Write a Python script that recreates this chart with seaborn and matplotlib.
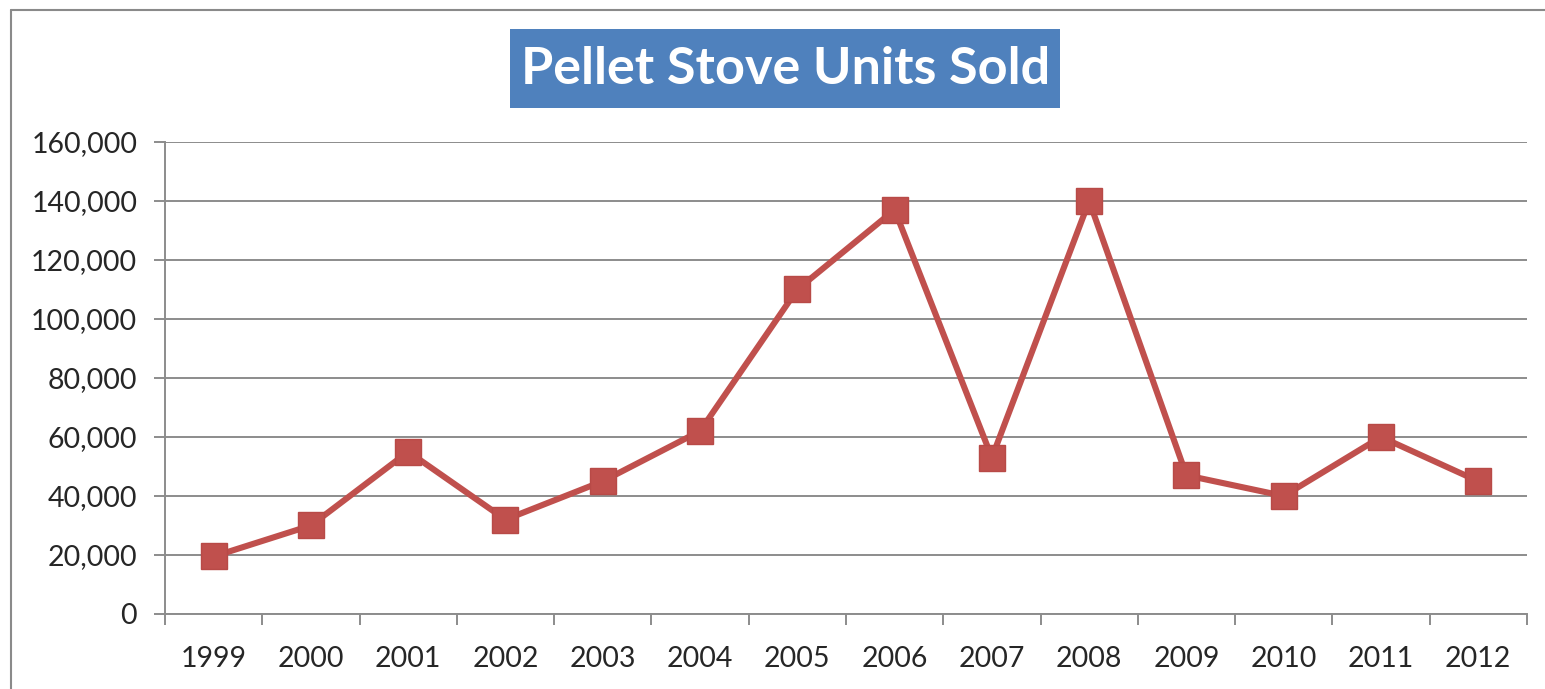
import matplotlib
matplotlib.use("Agg")
import matplotlib.pyplot as plt
import matplotlib.patches as mpatches
from matplotlib.lines import Line2D
from matplotlib.ticker import FuncFormatter, FixedLocator
import seaborn as sns
import pandas as pd

# data
years = ["1999", "2000", "2001", "2002", "2003", "2004", "2005",
         "2006", "2007", "2008", "2009", "2010", "2011", "2012"]
units_sold = [19500, 30000, 55000, 32000, 45000, 62000, 110000,
              137000, 53000, 140000, 47000, 40000, 60000, 45000]
y_ticks = [0, 20000, 40000, 60000, 80000, 100000, 120000, 140000, 160000]

title = "Pellet Stove Units Sold"
line_color = "#C0504D"
grid_color = "#8C8C8C"
text_color = "#262626"

sns.set_theme(style="white")
plt.rcParams["font.family"] = ["Lato", "DejaVu Sans"]

df = pd.DataFrame({"year": years, "units": units_sold})
df["pos"] = range(len(years))

fig = plt.figure(figsize=(15.45, 6.89), dpi=100)
ax = fig.add_axes([0.1068, 0.1089, 0.8815, 0.685])

sns.lineplot(data=df, x="pos", y="units", ax=ax, color=line_color,
             linewidth=4.4, marker="s", markersize=19,
             markerfacecolor=line_color, markeredgecolor="#B84A47",
             markeredgewidth=1, zorder=3)

ax.set_xlim(-0.5, len(years) - 0.5)
ax.set_ylim(y_ticks[0], y_ticks[-1])

# category axis: tick marks between categories, labels centred
ax.xaxis.set_major_locator(FixedLocator([i - 0.5 for i in range(len(years) + 1)]))
ax.xaxis.set_major_formatter(FuncFormatter(lambda v, p: ""))
ax.xaxis.set_minor_locator(FixedLocator(df["pos"].tolist()))
ax.set_xticklabels(years, minor=True)
ax.tick_params(axis="x", which="major", direction="out", length=8,
               width=1.4, color=grid_color, bottom=True)
ax.tick_params(axis="x", which="minor", length=0, pad=23,
               labelsize=20.5, labelcolor=text_color)

ax.set_yticks(y_ticks)
ax.yaxis.set_major_formatter(FuncFormatter(lambda v, p: f"{int(v):,}"))
ax.tick_params(axis="y", direction="out", length=8, width=1.4,
               color=grid_color, left=True, pad=12,
               labelsize=20.5, labelcolor=text_color)

ax.yaxis.grid(True, color=grid_color, linewidth=1.4)
ax.xaxis.grid(False)
for side in ["top", "right"]:
    ax.spines[side].set_visible(False)
for side in ["left", "bottom"]:
    ax.spines[side].set_color(grid_color)
    ax.spines[side].set_linewidth(1.4)

ax.set_xlabel("")
ax.set_ylabel("")

# title in a blue box
box = mpatches.Rectangle((510 / 1545, 1 - 108 / 689), 550 / 1545, 79 / 689,
                         transform=fig.transFigure, facecolor="#4F81BD",
                         edgecolor="none")
fig.patches.append(box)
fig.text(786 / 1545, 1 - 70 / 689, title, ha="center", va="center",
         color="white", fontsize=37.5, fontweight="bold")

# chart frame (top and left edges visible)
fig.add_artist(Line2D([11 / 1545, 11 / 1545], [0, 1 - 10 / 689],
                      transform=fig.transFigure, color="#8A8A8A", linewidth=1.5))
fig.add_artist(Line2D([11 / 1545, 1], [1 - 10 / 689, 1 - 10 / 689],
                      transform=fig.transFigure, color="#8A8A8A", linewidth=1.5))

fig.savefig("out.png", dpi=100)
